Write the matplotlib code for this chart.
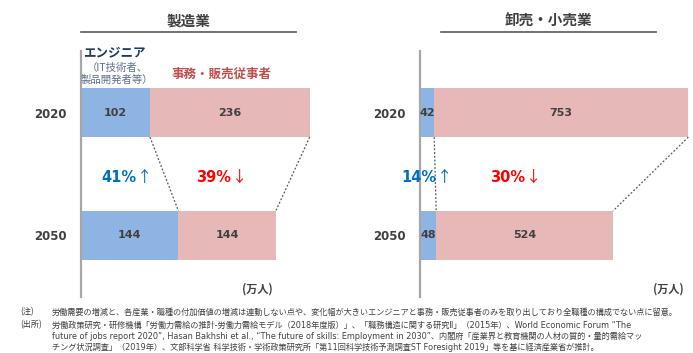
import matplotlib
matplotlib.use("Agg")
import matplotlib.pyplot as plt
from matplotlib.lines import Line2D

plt.rcParams['font.family'] = ['Noto Sans CJK JP', 'DejaVu Sans']
LATIN_FIRST = ['DejaVu Sans', 'Noto Sans CJK JP']

W, H = 693, 353
DPI = 100

years = ["2020", "2050"]
panels = ["製造業", "卸売・小売業"]
engineers = {"製造業": [102, 144], "卸売・小売業": [42, 48]}
clerks = {"製造業": [236, 144], "卸売・小売業": [753, 524]}
eng_change = {"製造業": "41%", "卸売・小売業": "14%"}
clk_change = {"製造業": "39%", "卸売・小売業": "30%"}
up_arrow, down_arrow = "↑", "↓"
unit_label = "(万人)"
eng_label = "エンジニア"
eng_sub = "（IT技術者、\n製品開発者等）"
clk_label = "事務・販売従事者"
notes = [
    ("(注)", "労働需要の増減と、各産業・職種の付加価値の増減は連動しない点や、変化幅が大きいエンジニアと事務・販売従事者のみを取り出しており全職種の構成でない点に留意。"),
    ("(出所)", "労働政策研究・研修機構「労働力需給の推計-労働力需給モデル（2018年度版）」、「職務構造に関する研究Ⅱ」（2015年）、World Economic Forum “The"),
    ("", "future of jobs report 2020”, Hasan Bakhshi et al., “The future of skills: Employment in 2030”、内閣府「産業界と教育機関の人材の質的・量的需給マッ"),
    ("", "チング状況調査」（2019年）、文部科学省 科学技術・学術政策研究所「第11回科学技術予測調査ST Foresight 2019」等を基に経済産業省が推計。"),
]

BLUE = "#8EB4E3"
PINK = "#E6B9B8"
DARK = "#404040"

fig = plt.figure(figsize=(W / DPI, H / DPI), dpi=DPI)


def fx(x):
    return x / W


def fy(y):
    return 1 - y / H


# panel geometry in pixels: left, right, xmax
geo = {"製造業": (81, 311, 340), "卸売・小売業": (420, 690, 800)}
title_geo = {"製造業": (81, 296), "卸売・小売業": (441, 656)}
unit_x = {"製造業": 257, "卸売・小売業": 668}
chg_x = {"製造業": (136, 231), "卸売・小売業": (436, 525)}

top_px, bot_px = 51, 297
for p in panels:
    l, r, xmax = geo[p]
    ax = fig.add_axes([fx(l), fy(bot_px), fx(r - l), (bot_px - top_px) / H])
    ax.set_xlim(0, xmax)
    ax.set_ylim(1.5, -0.5)
    e = engineers[p]
    c = clerks[p]
    ypos = [0, 1]
    ax.barh(ypos, e, height=0.4, color=BLUE, edgecolor="none")
    ax.barh(ypos, c, left=e, height=0.4, color=PINK, edgecolor="none")
    for i in range(2):
        ax.text(e[i] / 2, ypos[i], str(e[i]), ha="center", va="center",
                fontsize=8, fontweight="bold", color=DARK, family=LATIN_FIRST)
        ax.text(e[i] + c[i] / 2, ypos[i], str(c[i]), ha="center", va="center",
                fontsize=8, fontweight="bold", color=DARK, family=LATIN_FIRST)
    # connectors
    ax.plot([e[0], e[1]], [0.2, 0.8], ls=(0, (1.5, 1.5)), color="#595959", lw=0.9)
    ax.plot([e[0] + c[0], e[1] + c[1]], [0.2, 0.8], ls=(0, (1.5, 1.5)),
            color="#595959", lw=0.9)
    for s in ["top", "right", "bottom"]:
        ax.spines[s].set_visible(False)
    ax.spines["left"].set_color("#A6A6A6")
    ax.spines["left"].set_linewidth(1.6)
    ax.set_xticks([])
    ax.set_yticks(ypos)
    ax.set_yticklabels(years, fontsize=8.5, fontweight="bold", color=DARK,
                       family=LATIN_FIRST)
    ax.tick_params(axis="y", length=0, pad=10)
    ax.patch.set_alpha(0)

    # title + underline
    tl, tr = title_geo[p]
    fig.text(fx((tl + tr) / 2), fy(21), p, ha="center", va="center",
             fontsize=10.5, fontweight="bold", color=DARK)
    fig.add_artist(Line2D([fx(tl), fx(tr)], [fy(32), fy(32)], color="#595959", lw=1.2))

    # change labels (bold number, thin arrow)
    bx, rx = chg_x[p]
    for x0, num, arr, col in [(bx, eng_change[p], up_arrow, "#0070C0"),
                              (rx, clk_change[p], down_arrow, "#FF0000")]:
        fig.text(fx(x0), fy(177), num, ha="right", va="center",
                 fontsize=10.5, fontweight="bold", color=col, family=LATIN_FIRST)
        fig.text(fx(x0 + 1), fy(177.5), arr, ha="left", va="center",
                 fontsize=11, color=col)
    fig.text(fx(unit_x[p]), fy(289), unit_label, ha="center", va="center",
             fontsize=8, fontweight="bold", color=DARK)

# legend-like labels on left panel
fig.text(fx(114), fy(53), eng_label, ha="center", va="center",
         fontsize=9, fontweight="bold", color="#1F3864")
fig.text(fx(117), fy(74), eng_sub, ha="center", va="center",
         fontsize=7.5, color="#5A6F8E", linespacing=1.2)
fig.text(fx(221), fy(74), clk_label, ha="center", va="center",
         fontsize=9, fontweight="bold", color="#C0504D")

# footnotes
note_y = [312, 325, 336, 347]
for (lab, txt), y in zip(notes, note_y):
    if lab:
        fig.text(fx(20), fy(y), lab, ha="left", va="center", fontsize=5.9, color=DARK)
    fig.text(fx(52), fy(y), txt, ha="left", va="center", fontsize=5.9, color=DARK,
             family=LATIN_FIRST)

fig.savefig("out.png", dpi=DPI)
